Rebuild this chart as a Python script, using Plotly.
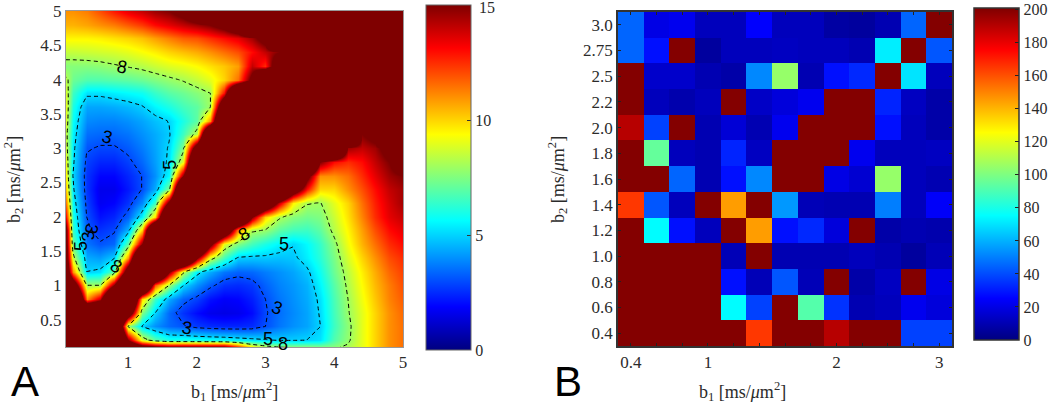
# -*- coding: utf-8 -*-
import plotly.graph_objects as go

# panel A: time estimate, rows from b2=5.0 down to b2=0.0
b_a = [0, 0.2, 0.4, 0.6, 0.8, 1, 1.2, 1.4, 1.6, 1.8, 2, 2.2, 2.4, 2.6, 2.8, 3, 3.2, 3.4, 3.6, 3.8, 4, 4.2, 4.4, 4.6, 4.8, 5]
b2_a = [5, 4.8, 4.6, 4.4, 4.2, 4, 3.8, 3.6, 3.4, 3.2, 3, 2.8, 2.6, 2.4, 2.2, 2, 1.8, 1.6, 1.4, 1.2, 1, 0.8, 0.6, 0.4, 0.2, 0]
z_a = [
    [11, 11, 11.3, 12, 12.8, 13.5, 14, 14.6, 15, 16, 18] + [25] * 15,
    [10.5, 10.5, 10.7, 11, 11.3, 11.8, 12.3, 13, 13.5, 14, 14.5, 15, 16, 18] + [25] * 12,
    [9.5, 9.5, 9.5, 9.6, 9.8, 10, 10.3, 10.8, 11.3, 11.8, 12, 12.5, 13, 13.5, 14.5, 16] + [25] * 10,
    [8.5, 8.5, 8.6, 8.7, 8.8, 9, 9.3, 9.6, 10, 10.3, 10.6, 11, 11.5, 12, 13, 14, 15, 16] + [25] * 8,
    [7.6, 7.6, 7.6, 7.7, 7.9, 8.1, 8.3, 8.6, 8.9, 9.1, 9.4, 9.8, 10.2, 10.8, 14, 12.5, 18] + [25] * 9,
    [9.5, 7.2, 6.8, 6.8, 6.9, 7, 7.2, 7.5, 7.8, 8.1, 8.5, 9, 10, 11.5, 16] + [25] * 11,
    [11, 6.5, 5.2, 5.2, 5.4, 5.6, 5.8, 6.4, 6.9, 7.2, 7.6, 8, 13] + [25] * 13,
    [12, 6, 4.3, 4.3, 4.4, 4.6, 4.9, 5.5, 6, 6.6, 7, 8, 20] + [25] * 13,
    [12, 5.7, 3.9, 3.8, 3.8, 4, 4.3, 4.7, 5.05, 6, 7, 11] + [25] * 14,
    [11.5, 5.5, 3.5, 3.4, 3.4, 3.6, 4, 4.4, 4.9, 6.5, 8.5] + [25] * 11 + [15, 16, 25, 25],
    [12, 5.3, 3.1, 2.9, 2.9, 3.2, 3.7, 4.3, 5.1, 7.5, 18] + [25] * 10 + [14.5, 14, 14.5, 16, 25],
    [13, 5.2, 2.8, 2.4, 2.4, 2.8, 3.4, 4.2, 5.2, 9] + [25] * 9 + [15, 13, 12.5, 13, 14, 15, 17],
    [14, 5, 2.6, 1.9, 1.9, 2.4, 3, 4, 5.6, 15] + [25] * 8 + [16, 11, 11, 11.5, 12.5, 13.5, 14.5, 15],
    [15, 5.2, 2.6, 1.6, 1.6, 2.2, 3, 4.4, 7.5] + [25] * 8 + [18, 13, 10, 10, 11, 12, 13, 14, 14.5],
    [17, 5.6, 2.8, 1.7, 1.9, 2.6, 3.9, 6.5, 16] + [25] * 6 + [20, 14, 9.5, 8.1, 7.95, 9, 10, 11.5, 12.7, 13.7, 14.5],
    [20, 6, 3, 2.1, 2.4, 3.3, 5.5, 10] + [25] * 6 + [15, 10, 8.2, 7.6, 7.3, 7.5, 8.6, 9.8, 11.2, 12.5, 13.5, 14],
    [25, 6.4, 3.2, 2.6, 2.9, 4.5, 10] + [25] * 5 + [20, 11, 8.2, 7.9, 7, 6.6, 6.5, 7, 8.3, 9.5, 10.8, 12, 13, 13.5],
    [25, 7.2, 3.6, 3.1, 3.4, 7, 15] + [25] * 4 + [16, 9, 7.5, 6.6, 6, 5.5, 5.05, 5.6, 6.4, 7.7, 9.2, 10.5, 11.5, 12.5, 13],
    [25, 8.5, 4.4, 4.2, 4.9, 11] + [25] * 4 + [15, 8.7, 6.6, 4.9, 4.8, 4.8, 4.7, 4.8, 5.4, 6.2, 7.4, 8.8, 10, 11, 12, 12.5],
    [25, 11, 5, 5.2, 7, 18, 25, 25, 15, 8.5, 5.4, 4.4, 3.6, 3.3, 3.4, 3.7, 4, 4.3, 4.8, 5.8, 7.2, 8.4, 9.6, 10.6, 11.6, 12.2],
    [25, 18, 8, 8, 15, 25, 25, 12, 8, 5.1, 4, 3.2, 2.6, 2.5, 2.7, 3.3, 3.8, 4.1, 4.5, 5.5, 6.9, 8.2, 9.4, 10.4, 11.3, 12],
    [25, 25, 11, 14, 25, 25, 10, 6.5, 4.4, 3.3, 2.8, 2.1, 1.8, 1.9, 2.3, 3, 3.6, 4, 4.4, 5.2, 6.7, 8, 9.2, 10.2, 11.2, 11.8],
    [25, 25, 25, 25, 25, 18, 7.5, 5, 3.4, 2.6, 2, 1.6, 1.5, 1.6, 2, 2.9, 3.5, 3.9, 4.3, 5.1, 6.6, 7.9, 9, 10, 11, 11.6],
    [25, 25, 25, 25, 25, 8, 5, 4, 3.4, 3.1, 2.7, 2.5, 2.4, 2.4, 2.5, 3, 3.6, 4, 4.3, 5, 6.5, 7.7, 9, 10, 11, 11.5],
    [25, 25, 25, 25, 25, 15, 9, 7, 6, 6, 5.9, 5.8, 5.7, 5.5, 5.3, 5.1, 4.9, 4.9, 5, 5.2, 6.8, 7.8, 9, 10, 11, 11.5],
    [25] * 13 + [20, 14, 12, 11, 10.5, 10.5, 10, 8.5, 8.5, 9, 10, 11, 11.5],
]
contour_levels = [3, 5, 8]

# panel B: 13 x 13 cells, rows from b2=3.0 down to b2=0.4
b1_b = ["0.4", "0.6", "0.8", "1", "1.2", "1.4", "1.6", "1.8", "2", "2.2", "2.5", "2.75", "3"]
b1_labelled = ["0.4", "1", "2", "3"]
b2_b = ["3.0", "2.75", "2.5", "2.2", "2.0", "1.8", "1.6", "1.4", "1.2", "1.0", "0.8", "0.6", "0.4"]
z_b = [
    [45, 20, 22, 12, 12, 25, 12, 12, 7, 6, 10, 45, 200],
    [45, 28, 200, 6, 12, 12, 13, 12, 12, 10, 72, 200, 42],
    [200, 15, 15, 10, 8, 52, 105, 10, 28, 33, 200, 70, 12],
    [200, 12, 9, 12, 200, 14, 18, 22, 200, 200, 32, 13, 8],
    [190, 38, 200, 10, 17, 10, 22, 200, 200, 200, 28, 12, 8],
    [200, 95, 12, 10, 32, 13, 200, 200, 200, 22, 12, 12, 13],
    [200, 200, 45, 10, 28, 52, 200, 200, 20, 16, 105, 12, 10],
    [165, 42, 12, 200, 145, 200, 55, 11, 10, 10, 50, 12, 24],
    [200, 75, 28, 12, 200, 145, 28, 33, 18, 200, 8, 10, 9],
    [200, 200, 200, 200, 11, 200, 10, 10, 10, 12, 10, 6, 11],
    [200, 200, 200, 200, 28, 11, 42, 11, 200, 8, 13, 200, 20],
    [200, 200, 200, 200, 75, 38, 200, 92, 35, 10, 12, 22, 18],
    [200, 200, 200, 200, 200, 165, 200, 200, 190, 200, 200, 38, 38],
]

JET = [
    [0, "#00007f"], [0.125, "#0000ff"], [0.375, "#00ffff"],
    [0.625, "#ffff00"], [0.875, "#ff0000"], [1, "#7f0000"],
]
W, H = 1050, 408
SERIF = "Liberation Serif, Times New Roman, serif"
SANS = "Liberation Sans, Arial, sans-serif"
TEXT = "#2b2b2b"


def px(x):
    return x / W


def py(y):
    return 1 - y / H


fig = go.Figure()

fig.add_trace(go.Heatmap(
    x=b_a, y=b2_a[::-1], z=z_a[::-1],
    colorscale=JET, zmin=0, zmax=15, zsmooth="best",
    xaxis="x", yaxis="y",
    colorbar=dict(
        x=px(426), xanchor="left", xpad=0, ypad=0, thickness=45, thicknessmode="pixels",
        y=py(350), yanchor="bottom", len=345, lenmode="pixels",
        tickvals=[0, 5, 10], ticks="inside", ticklen=4, tickcolor="#333",
        outlinecolor="#666", outlinewidth=1,
        tickfont=dict(family=SERIF, size=16, color=TEXT),
    ),
))

for level in contour_levels:
    fig.add_trace(go.Contour(
        x=b_a, y=b2_a[::-1], z=z_a[::-1],
        autocontour=False,
        contours=dict(start=level, end=level, size=1, coloring="none", showlabels=False),
        line=dict(color="black", width=1, dash="4px,3px", smoothing=0),
        showscale=False, hoverinfo="skip",
        xaxis="x", yaxis="y",
    ))

# zmax a hair over the top tick, otherwise the colorbar drops its last label
fig.add_trace(go.Heatmap(
    x=list(range(len(b1_b))), y=list(range(len(b2_b)))[::-1], z=z_b,
    colorscale=JET, zmin=0, zmax=201,
    xaxis="x2", yaxis="y2",
    colorbar=dict(
        x=px(974), xanchor="left", xpad=0, ypad=0, thickness=45, thicknessmode="pixels",
        y=py(340), yanchor="bottom", len=332, lenmode="pixels",
        tickvals=list(range(0, 201, 20)), ticks="inside", ticklen=4, tickcolor="#222",
        outlinecolor="#333", outlinewidth=1.5,
        tickfont=dict(family=SERIF, size=16, color=TEXT),
    ),
))

# contour labels sit on the lines, same spots as the original clabel output
contour_labels = [
    ("8", 0.92, 4.18, 10), ("3", 0.69, 3.16, 15), ("5", 1.6, 2.76, -90), ("3", 0.47, 1.82, 100),
    ("3", 0.42, 1.72, -100), ("5", 0.31, 1.58, -90), ("8", 0.82, 1.28, 30), ("8", 2.69, 1.75, -30),
    ("5", 3.27, 1.6, 0), ("3", 3.17, 0.67, 20), ("3", 1.86, 0.38, 10), ("5", 3.03, 0.22, 0), ("8", 3.25, 0.14, 0),
]
annotations = [
    dict(text=t, x=x, y=y, xref="x", yref="y", showarrow=False, textangle=a,
         font=dict(family=SANS, size=18, color="black"))
    for t, x, y, a in contour_labels
]
for text, x, y, angle in [
    ("b<sub>1</sub> [ms/<i>μ</i>m<sup>2</sup>]", 234, 391, 0),
    ("b<sub>2</sub> [ms/<i>μ</i>m<sup>2</sup>]", 13, 180, -90),
    ("b<sub>1</sub> [ms/<i>μ</i>m<sup>2</sup>]", 742, 391, 0),
    ("b<sub>2</sub> [ms/<i>μ</i>m<sup>2</sup>]", 557, 180, -90),
]:
    annotations.append(dict(text=text, x=px(x), y=py(y), xref="paper", yref="paper", showarrow=False,
                            xanchor="center", yanchor="middle", textangle=angle,
                            font=dict(family=SERIF, size=18, color=TEXT)))
for text, x in [("A", 25), ("B", 568)]:
    annotations.append(dict(text=text, x=px(x), y=py(381), xref="paper", yref="paper", showarrow=False,
                            xanchor="center", yanchor="middle",
                            font=dict(family=SANS, size=42, color="black")))
# top colorbar label sits too close to the page edge for the colorbar to keep it
annotations.append(dict(text="15", x=px(477), y=py(7), xref="paper", yref="paper", showarrow=False,
                        xanchor="left", yanchor="middle", font=dict(family=SERIF, size=16, color=TEXT)))

panel_a_axis = dict(
    showgrid=False, zeroline=False, mirror=True, showline=True, linecolor="#999", linewidth=1,
    ticks="", tickfont=dict(family=SERIF, size=17, color=TEXT),
)
panel_b_axis = dict(
    showgrid=False, zeroline=False, mirror="allticks", showline=True, linecolor="#333", linewidth=1.5,
    ticks="inside", ticklen=3, tickcolor="#222", tickfont=dict(family=SERIF, size=17, color=TEXT),
)

fig.update_layout(
    width=W, height=H,
    margin=dict(l=0, r=0, t=0, b=0, autoexpand=False),
    paper_bgcolor="white", plot_bgcolor="white",
    showlegend=False,
    annotations=annotations,
    xaxis=dict(panel_a_axis, domain=[px(66), px(403)], range=[0.1, 5], tickvals=[1, 2, 3, 4, 5], anchor="y"),
    yaxis=dict(panel_a_axis, domain=[py(347), py(11)], range=[0.1, 5],
               tickvals=[0.5, 1, 1.5, 2, 2.5, 3, 3.5, 4, 4.5, 5],
               ticktext=["0.5", "1", "1.5", "2", "2.5", "3", "3.5", "4", "4.5", "5"], anchor="x"),
    xaxis2=dict(panel_b_axis, domain=[px(618), px(952)], range=[-0.5, 12.5],
                tickvals=[b1_b.index(t) for t in b1_labelled], ticktext=b1_labelled, anchor="y2",
                minor=dict(tickmode="array", tickvals=list(range(13)), ticks="inside", ticklen=3, tickcolor="#222")),
    yaxis2=dict(panel_b_axis, domain=[py(346), py(12)], range=[-0.5, 12.5],
                tickvals=list(range(13))[::-1], ticktext=b2_b, anchor="x2"),
)

fig.write_html("out.html", post_script="document.body.style.margin='0';",
               config=dict(displayModeBar=False))
